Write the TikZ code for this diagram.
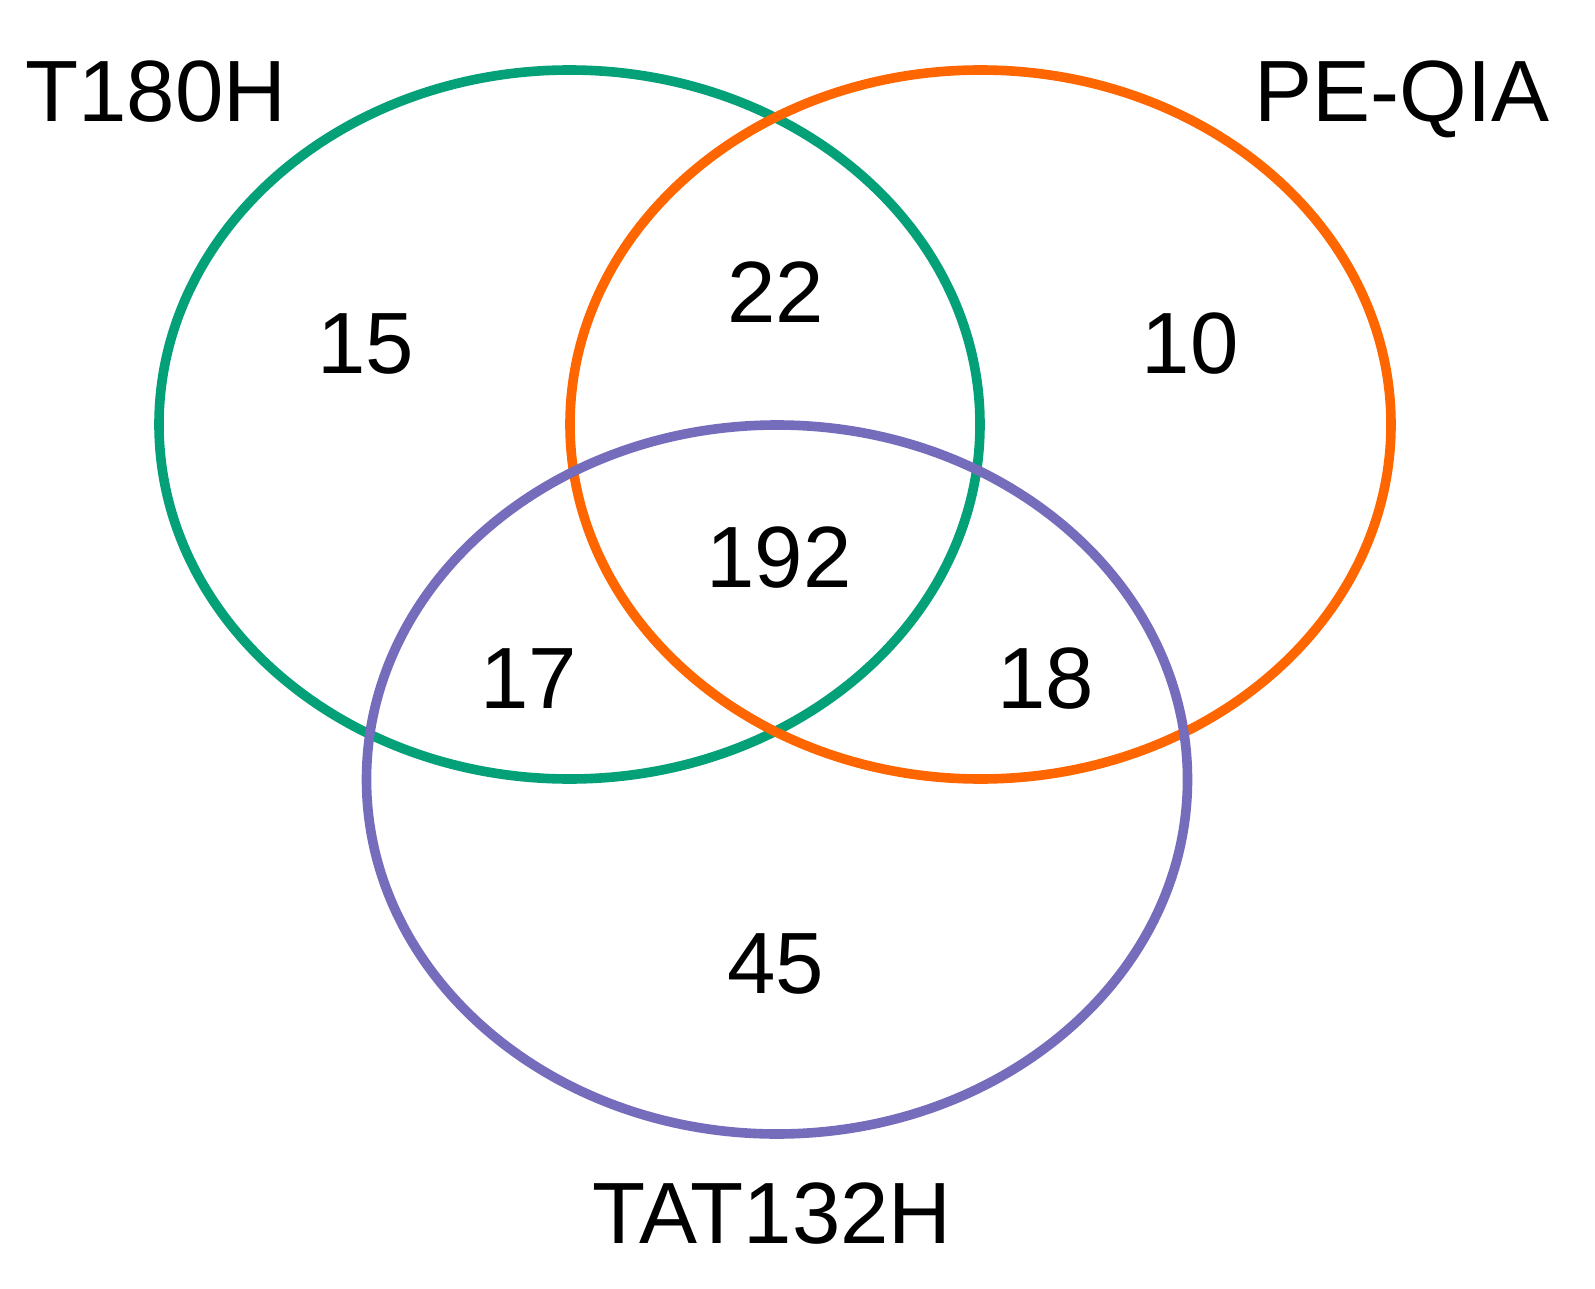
\documentclass[tikz,border=0pt]{standalone}
\usepackage{fontspec}
\setmainfont{Liberation Sans}
\definecolor{vgreen}{RGB}{4,160,120}
\definecolor{vorange}{RGB}{255,102,0}
\definecolor{vpurple}{RGB}{118,108,188}
\begin{document}
\begin{tikzpicture}[x=0.5pt,y=-0.5pt,
  setline/.style={line width=4.8pt},
  lbl/.style={font=\fontsize{43.5}{50}\selectfont, anchor=base, inner sep=0pt}]
\fill[white] (0,0) rectangle (1595,1289);
\useasboundingbox (0,0) rectangle (1595,1289);
\draw[setline, vgreen] (569.5,424.5) ellipse [x radius=410.5, y radius=354.5];
\draw[setline, vorange] (980.5,424.5) ellipse [x radius=410.5, y radius=354.5];
\draw[setline, vpurple] (777,779.5) ellipse [x radius=410.5, y radius=354.5];
\node[lbl] (a) at (156,122) {T180H};
\node[lbl] (b) at (1402,122) {PE-QIA};
\node[lbl] (c) at (772,1243) {TAT132H};
\node[lbl] (n15) at (366,373) {15};
\node[lbl] (n22) at (776,322) {22};
\node[lbl] (n10) at (1190,373) {10};
\node[lbl] (n192) at (779,587) {192};
\node[lbl] (n17) at (529,708) {17};
\node[lbl] (n18) at (1046,708) {18};
\node[lbl] (n45) at (776,993) {45};
\end{tikzpicture}
\end{document}
